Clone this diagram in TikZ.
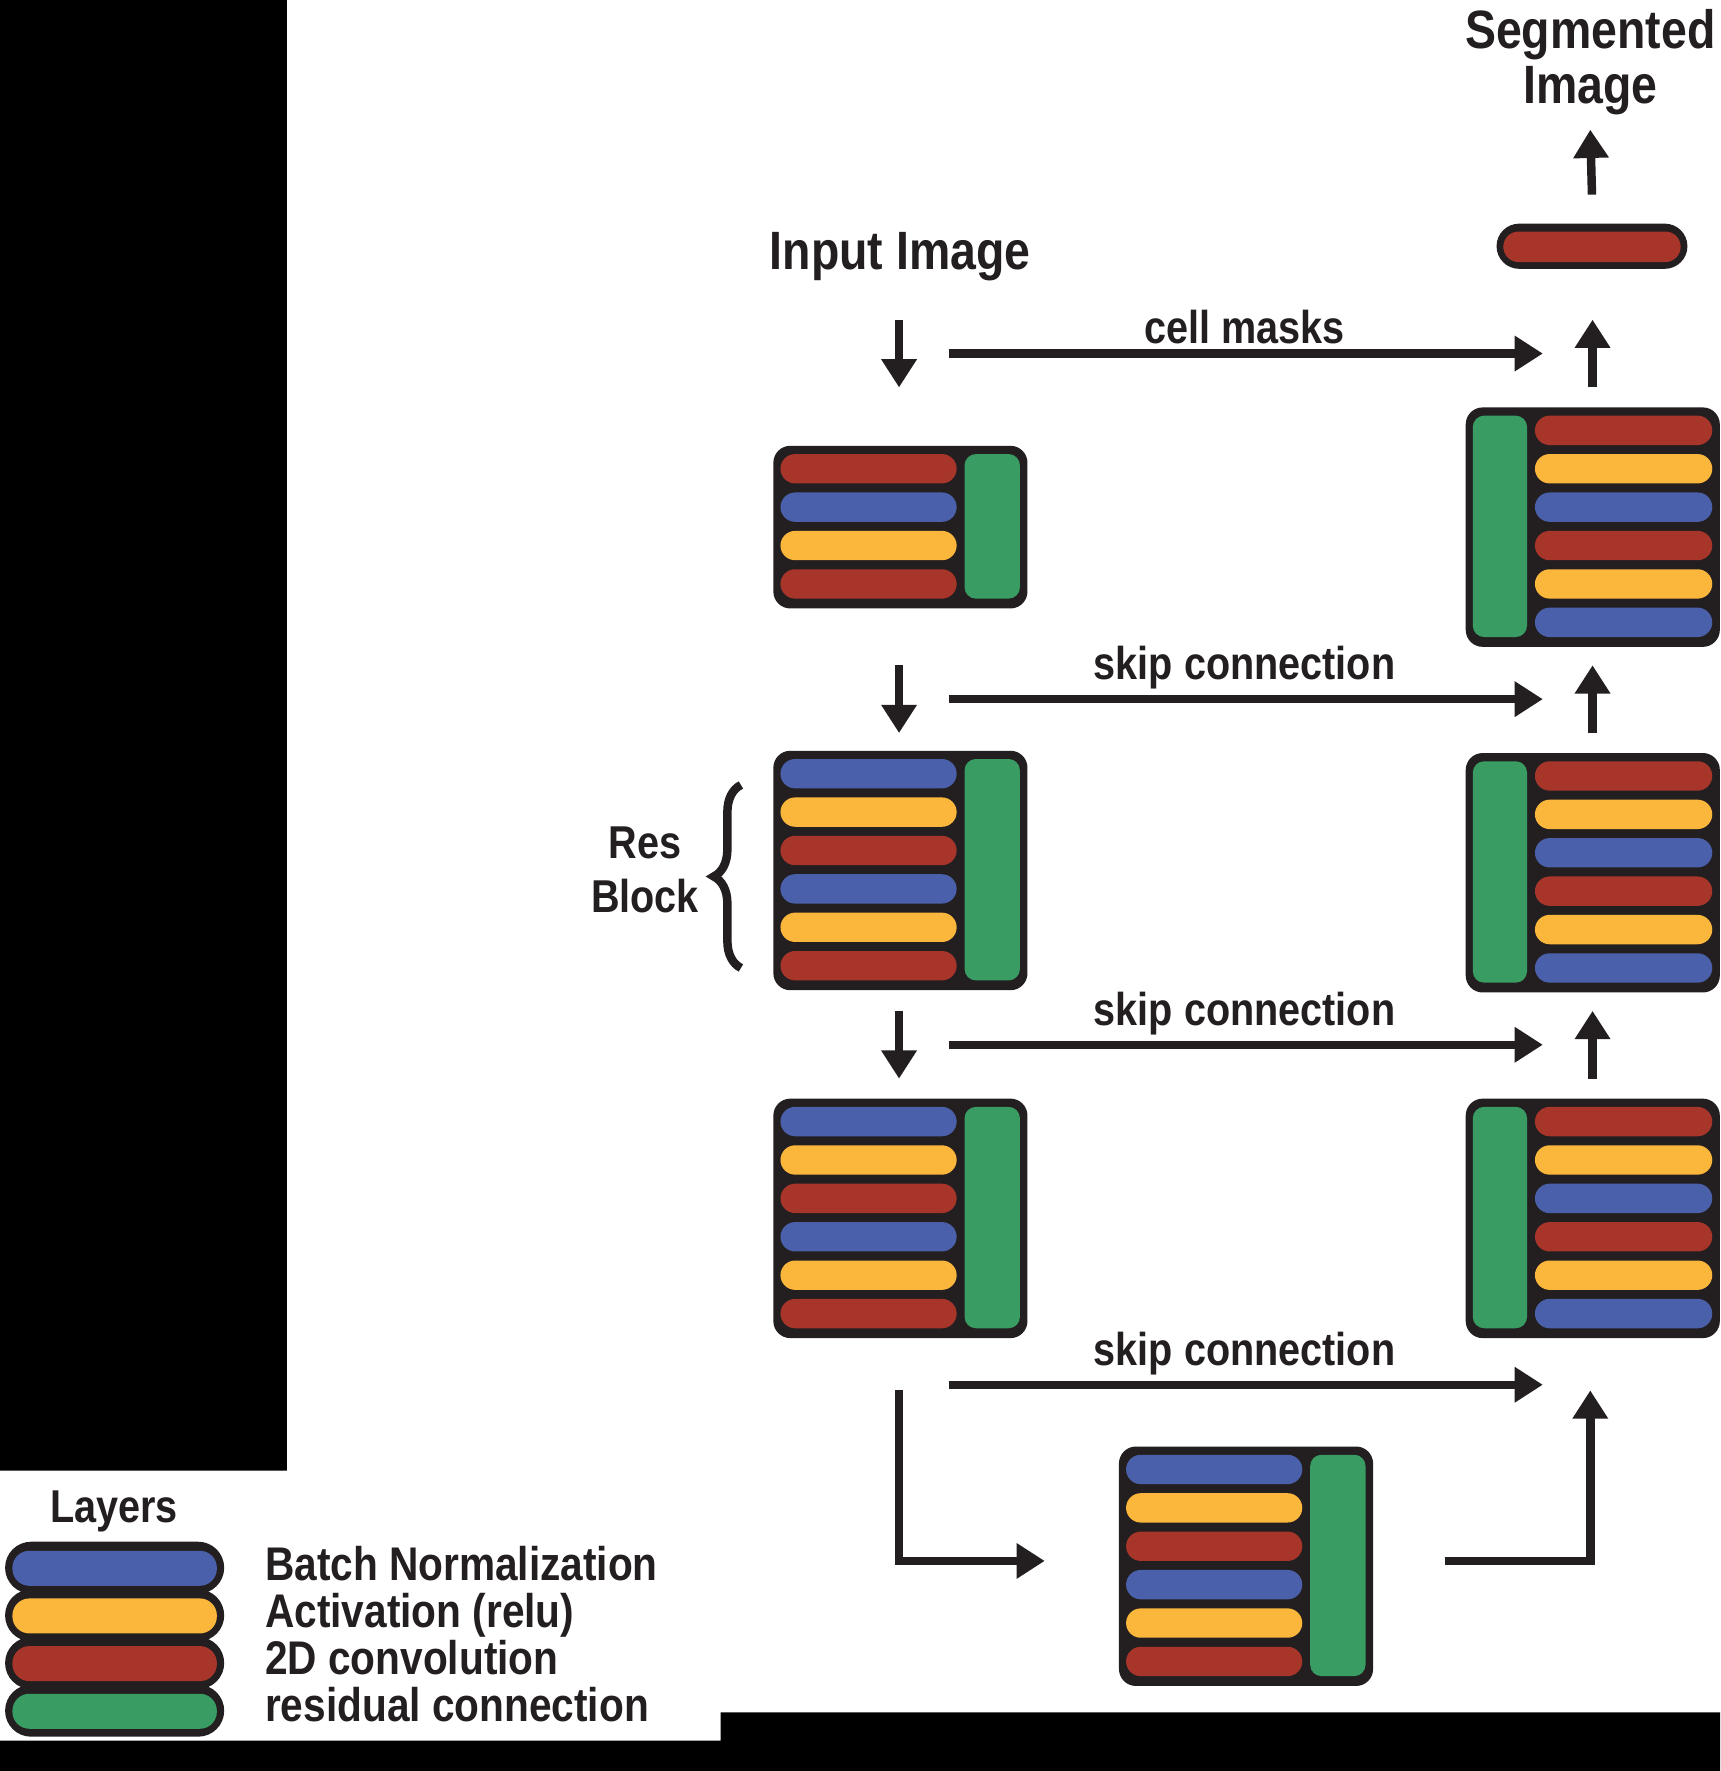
\documentclass[tikz,border=0pt]{standalone}
\usepackage{fontspec}
\setmainfont{Liberation Sans}[FakeStretch=0.86]
\usetikzlibrary{arrows.meta,decorations.pathreplacing}
\definecolor{bnblue}{HTML}{4A60AA}
\definecolor{actyellow}{HTML}{FBB63C}
\definecolor{convred}{HTML}{A8352A}
\definecolor{resgreen}{HTML}{389C63}
\definecolor{inkdark}{HTML}{231F20}
\begin{document}
\begin{tikzpicture}[x=0.1mm,y=-0.1mm,line join=miter,>={Triangle[length=2.5mm,width=3mm]}]
	\tikzset{lbl/.style={font=\bfseries\fontsize{11.6}{13.8}\selectfont,text=inkdark,inner sep=0pt,align=center},
		title/.style={lbl,font=\bfseries\fontsize{13.6}{13.85}\selectfont},
		legtext/.style={lbl,font=\bfseries\fontsize{11.9}{13.8}\selectfont,anchor=base west},
		blockbox/.style={fill=inkdark,rounded corners=1.5mm,minimum width=22.5mm,inner sep=0pt,anchor=north west},
		arr/.style={draw=inkdark,line width=0.75mm,->}}
	\useasboundingbox (0,0) rectangle (1523,1568);
	\fill[white] (0,0) rectangle (1523,1568);
	\fill[black] (0,0) rectangle (254,1302) (638,1516) rectangle (1523,1568) (0,1541) rectangle (1523,1568);
	% encoder side and bottleneck, green on the right
	\foreach \nm/\bx/\by/\n/\cols in {enc1/684/394/4/{convred,bnblue,actyellow,convred},
		enc2/684/664/6/{bnblue,actyellow,convred,bnblue,actyellow,convred},
		enc3/684/972/6/{bnblue,actyellow,convred,bnblue,actyellow,convred},
		bott/990/1280/6/{bnblue,actyellow,convred,bnblue,actyellow,convred}}{
		\pgfmathsetmacro\bh{0.8+3.4*\n}
		\node[blockbox,minimum height=\bh mm] (\nm) at (\bx,\by) {};
		\foreach \c [count=\i from 0] in \cols
		\fill[\c,rounded corners=1.3mm] (\bx+7,{\by+8+34*\i}) rectangle ++(156,26);
		\fill[resgreen,rounded corners=1mm] (\bx+170,\by+8) rectangle ++(49,{34*\n-8});
	}
	% decoder side, green on the left
	\foreach \nm/\by in {dec1/360,dec2/666,dec3/972}{
		\node[blockbox,minimum height=21.2mm] (\nm) at (1297,\by) {};
		\foreach \c [count=\i from 0] in {convred,actyellow,bnblue,convred,actyellow,bnblue}
		\fill[\c,rounded corners=1.3mm] (1359,{\by+8+34*\i}) rectangle ++(157,26);
		\fill[resgreen,rounded corners=1mm] (1304,\by+8) rectangle ++(48,196);
	}
	\node[fill=inkdark,rounded corners=2mm,minimum width=16.9mm,minimum height=4mm,inner sep=0pt] (out) at (1409.5,218) {};
	\fill[convred,rounded corners=1.35mm] (1331,205) rectangle (1488,232);
	% titles
	\node[title,anchor=base] (inimg) at (797,239) {Input Image};
	\node[title,anchor=north] (segimg) at (1408,8) {Segmented\\Image};
	\draw[arr] ([yshift=2.5mm]out.north) -- ([yshift=-1.2mm]segimg.south);
	% skip rows
	\foreach \y/\t [count=\k] in {313/cell masks,619/skip connection,925/skip connection,1226/skip connection}{
		\coordinate (skipL\k) at (840,\y);
		\coordinate (skipR\k) at (1366,\y);
		\draw[arr] (skipL\k) -- (skipR\k);
		\node[lbl,anchor=south] (row\k) at (1102,\y-8) {\t};
	}
	\foreach \y [count=\k] in {313,619,925}{
		\coordinate (dnA\k) at (796,\y-30);
		\coordinate (dnB\k) at (796,\y+30);
		\coordinate (upA\k) at (1410,\y+30);
		\coordinate (upB\k) at (1410,\y-30);
		\draw[arr] (dnA\k) -- (dnB\k);
		\draw[arr] (upA\k) -- (upB\k);
	}
	\coordinate (bdn) at (796,1231);
	\coordinate (bin) at (925,1382);
	\coordinate (bout) at (1279,1382);
	\coordinate (bup) at (1408,1231);
	\draw[arr] (bdn) |- (bin);
	\draw[arr] (bout) -| (bup);
	% res block brace
	\node[lbl,anchor=north] (resblk) at (571,731) {Res\\Block};
	\coordinate (brbot) at (656,857);
	\coordinate (brtop) at (656,695);
	\draw[inkdark,line width=0.75mm,decorate,decoration={brace,amplitude=2.4mm}] (brbot) -- (brtop);
	% legend
	\node[lbl,anchor=base] (legtitle) at (101,1348) {Layers};
	\foreach \i in {0,...,3}
	\fill[inkdark,rounded corners=2.3mm] (4.5,{1365+42.2*\i}) rectangle ++(194,46);
	\foreach \c [count=\i from 0] in {bnblue,actyellow,convred,resgreen}
	\fill[\c,rounded corners=1.5mm] (11,{1373+42.2*\i}) rectangle ++(181,31);
	\foreach \t [count=\i from 0] in {Batch Normalization,Activation (relu),2D convolution,residual connection}
	\node[legtext] (leg\i) at (234,{1399.6+41.5*\i}) {\t};
\end{tikzpicture}
\end{document}
